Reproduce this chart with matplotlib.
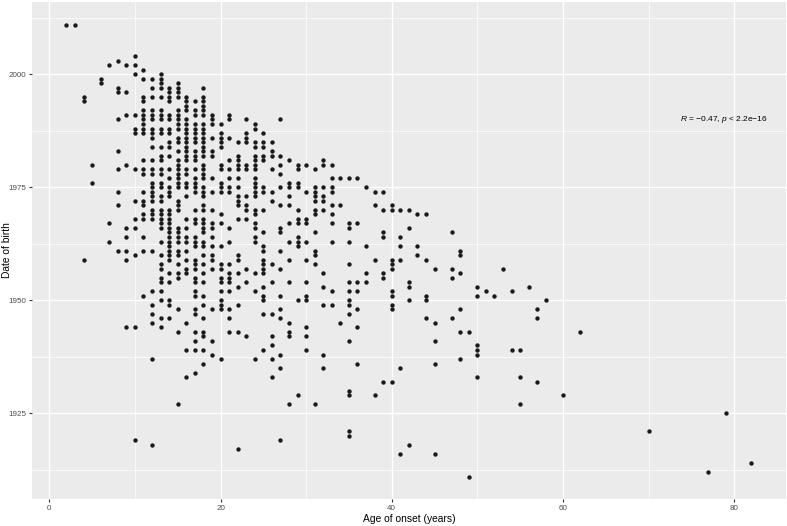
import matplotlib.pyplot as plt
from matplotlib.ticker import MultipleLocator

# age of onset (years) and the birth years observed at each age
ages = [2, 3, 4, 5, 6, 7, 8, 9, 10, 11, 12, 13, 14, 15, 16, 17, 18, 19, 20,
        21, 22, 23, 24, 25, 26, 27, 28, 29, 30, 31, 32, 33, 34, 35, 36, 37,
        38, 39, 40, 41, 42, 43, 44, 45, 47, 48, 49, 50, 51, 52, 53, 54, 55,
        56, 57, 58, 60, 62, 70, 77, 79, 82]

birth_years = [
    [2011],
    [2011],
    [1995, 1994, 1959],
    [1980, 1976],
    [1999, 1998],
    [2002, 1967, 1963],
    [2003, 1997, 1996, 1990, 1983, 1979, 1974, 1971, 1961],
    [2002, 1996, 1991, 1980, 1966, 1964, 1961, 1959, 1944],
    [2004, 2002, 2000, 1991, 1988, 1987, 1979, 1972, 1968, 1966, 1960, 1944, 1919],
    [2001, 1999, 1995, 1994, 1992, 1991, 1990, 1989, 1988, 1987, 1981, 1979,
     1978, 1974, 1972, 1971, 1969, 1968, 1964, 1961, 1951],
    [1999, 1997, 1995, 1992, 1991, 1990, 1988, 1987, 1986, 1984, 1981, 1979,
     1978, 1976, 1975, 1974, 1973, 1972, 1970, 1969, 1968, 1961, 1952, 1949,
     1947, 1945, 1937, 1918],
    [2000, 1999, 1998, 1997, 1995, 1992, 1991, 1990, 1988, 1987, 1984, 1982,
     1981, 1979, 1978, 1976, 1975, 1973, 1972, 1970, 1969, 1968, 1967, 1966,
     1963, 1960, 1958, 1957, 1955, 1954, 1952, 1950, 1946, 1944],
    [1997, 1996, 1995, 1994, 1991, 1990, 1988, 1987, 1985, 1984, 1982, 1979,
     1977, 1975, 1974, 1973, 1970, 1969, 1968, 1967, 1966, 1965, 1964, 1963,
     1962, 1961, 1960, 1959, 1956, 1954, 1950, 1949, 1946],
    [1998, 1997, 1996, 1995, 1992, 1991, 1990, 1989, 1988, 1986, 1985, 1983,
     1981, 1980, 1979, 1978, 1977, 1976, 1975, 1972, 1971, 1970, 1966, 1965,
     1964, 1963, 1961, 1960, 1958, 1956, 1955, 1948, 1943, 1927],
    [1995, 1994, 1993, 1992, 1990, 1989, 1988, 1987, 1986, 1985, 1984, 1983,
     1982, 1981, 1979, 1978, 1976, 1975, 1973, 1968, 1966, 1964, 1963, 1961,
     1959, 1957, 1956, 1945, 1939, 1933],
    [1994, 1992, 1991, 1989, 1988, 1987, 1986, 1985, 1983, 1982, 1981, 1979,
     1977, 1976, 1975, 1974, 1970, 1968, 1967, 1964, 1963, 1962, 1959, 1958,
     1957, 1955, 1954, 1952, 1951, 1948, 1947, 1943, 1941, 1939, 1934],
    [1997, 1995, 1994, 1993, 1992, 1991, 1989, 1988, 1987, 1986, 1985, 1984,
     1983, 1982, 1980, 1979, 1978, 1977, 1975, 1974, 1973, 1971, 1970, 1968,
     1967, 1966, 1965, 1963, 1962, 1960, 1958, 1956, 1954, 1951, 1949, 1946,
     1943, 1942, 1939, 1936],
    [1991, 1990, 1989, 1986, 1983, 1982, 1977, 1974, 1970, 1967, 1966, 1964,
     1962, 1960, 1959, 1957, 1948, 1941, 1938],
    [1989, 1987, 1986, 1985, 1984, 1980, 1979, 1976, 1975, 1974, 1969, 1967,
     1962, 1958, 1957, 1955, 1954, 1952, 1950, 1949, 1948, 1937],
    [1991, 1990, 1986, 1981, 1979, 1977, 1975, 1974, 1966, 1963, 1958, 1956,
     1955, 1954, 1952, 1948, 1946, 1943],
    [1985, 1982, 1981, 1980, 1979, 1977, 1975, 1973, 1972, 1971, 1968, 1960,
     1959, 1956, 1953, 1949, 1943, 1917],
    [1990, 1987, 1986, 1985, 1980, 1979, 1973, 1971, 1970, 1968, 1957, 1954, 1942],
    [1989, 1988, 1985, 1984, 1982, 1981, 1980, 1979, 1977, 1976, 1975, 1974,
     1973, 1970, 1969, 1967, 1966, 1964, 1963, 1956, 1952, 1937],
    [1987, 1985, 1984, 1982, 1981, 1975, 1974, 1970, 1965, 1962, 1961, 1959,
     1958, 1957, 1956, 1953, 1951, 1950, 1947, 1939],
    [1985, 1983, 1982, 1979, 1974, 1972, 1958, 1954, 1947, 1942, 1940, 1937, 1933],
    [1990, 1982, 1980, 1978, 1975, 1971, 1966, 1965, 1961, 1957, 1951, 1948,
     1946, 1938, 1935, 1919],
    [1981, 1976, 1975, 1973, 1971, 1967, 1963, 1959, 1954, 1945, 1943, 1942, 1927],
    [1980, 1979, 1976, 1975, 1970, 1968, 1967, 1964, 1963, 1962, 1950, 1929],
    [1980, 1974, 1968, 1967, 1963, 1959, 1954, 1951, 1950, 1944, 1942, 1939],
    [1979, 1975, 1974, 1973, 1972, 1970, 1969, 1965, 1961, 1960, 1958, 1927],
    [1981, 1980, 1975, 1973, 1972, 1970, 1956, 1953, 1949, 1938, 1935],
    [1980, 1977, 1975, 1974, 1971, 1969, 1967, 1963, 1952, 1949],
    [1977, 1971, 1945],
    [1977, 1967, 1966, 1963, 1958, 1954, 1952, 1950, 1949, 1947, 1941, 1930,
     1929, 1921, 1920],
    [1977, 1967, 1954, 1952, 1948, 1944, 1936],
    [1975, 1962, 1956, 1954],
    [1974, 1971, 1959, 1929],
    [1974, 1970, 1965, 1964, 1956, 1955, 1932],
    [1971, 1970, 1959, 1958, 1957, 1952, 1951, 1949, 1948, 1932],
    [1970, 1964, 1962, 1959, 1935, 1916],
    [1970, 1966, 1954, 1953, 1950, 1918],
    [1969, 1962, 1960],
    [1969, 1959, 1951, 1950, 1946],
    [1957, 1945, 1941, 1936, 1916],
    [1965, 1957, 1955, 1946],
    [1961, 1960, 1956, 1948, 1943, 1937],
    [1943, 1911],
    [1953, 1951, 1940, 1939, 1938, 1933],
    [1952],
    [1951],
    [1957],
    [1952, 1939],
    [1939, 1933, 1927],
    [1953],
    [1948, 1946, 1932],
    [1950],
    [1929],
    [1943],
    [1921],
    [1912],
    [1925],
    [1914],
]

x_ticks = [0, 20, 40, 60, 80]
y_ticks = [1925, 1950, 1975, 2000]
cor_label = "$R$ = \u22120.47, $p$ < 2.2e\u221216"

plt.rcParams['font.family'] = ['Liberation Sans', 'DejaVu Sans']
plt.rcParams['mathtext.fontset'] = 'custom'
plt.rcParams['mathtext.it'] = 'Liberation Sans:italic'
plt.rcParams['mathtext.rm'] = 'Liberation Sans'

x, y = [], []
for a, yrs in zip(ages, birth_years):
    for yr in yrs:
        x.append(a)
        y.append(yr)

fig = plt.figure(figsize=(7.87, 5.26), dpi=100)
ax = fig.add_axes([0.0409, 0.051, 0.9572, 0.9453])
ax.set_facecolor('#EBEBEB')
for s in ax.spines.values():
    s.set_visible(False)

ax.set_xlim(-2, 86)
ax.set_ylim(1906, 2016)
ax.set_xticks(x_ticks)
ax.set_yticks(y_ticks)
ax.xaxis.set_minor_locator(MultipleLocator(10))
ax.yaxis.set_minor_locator(MultipleLocator(12.5))
ax.grid(which='major', color='white', linewidth=1.0)
ax.grid(which='minor', color='white', linewidth=0.5)
ax.set_axisbelow(True)
ax.tick_params(which='major', length=2.5, width=0.8, color='#333333',
               labelsize=5.8, labelcolor='#4D4D4D', pad=1.5)
ax.tick_params(which='minor', length=0)

ax.scatter(x, y, s=10, color='#1A1A1A', linewidths=0, zorder=3)

ax.text(73.7, 1990, cor_label, fontsize=6.0, ha='left', va='center')

ax.set_xlabel('Age of onset (years)', fontsize=7.4, labelpad=1.5)
fig.text(7.5 / 787, 0.524, 'Date of birth', fontsize=7.4, rotation=90,
         ha='center', va='center')

fig.savefig('out.png', dpi=100)
